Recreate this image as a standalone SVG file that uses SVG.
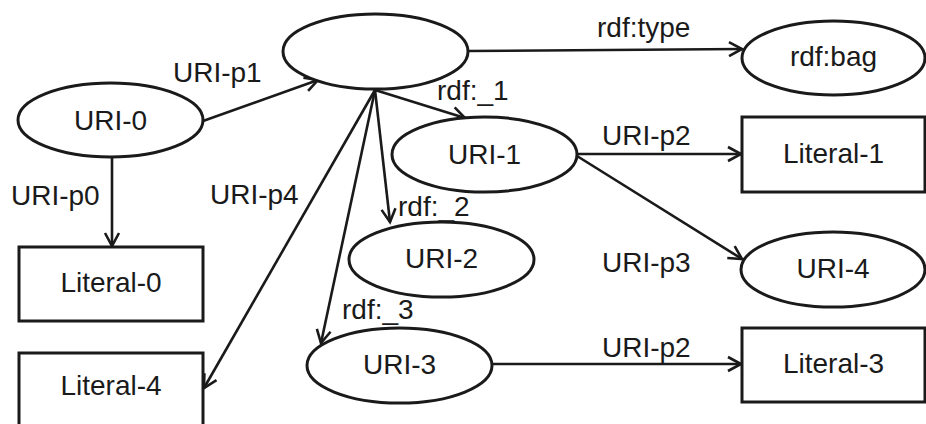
<svg xmlns="http://www.w3.org/2000/svg" width="926" height="424" viewBox="0 0 926 424">
<style>
.n{fill:#fff;stroke:#1a1a1a;stroke-width:3}
.t{font-family:"Liberation Sans",Arial,sans-serif;font-size:28px;fill:#1a1a1a}
.c{text-anchor:middle}
.e{stroke:#1a1a1a;stroke-width:2.6;fill:none;marker-end:url(#a)}
</style>
<defs>
<marker id="a" markerUnits="userSpaceOnUse" viewBox="-16 -10 19 20" refX="0" refY="0" markerWidth="19" markerHeight="20" orient="auto">
<path d="M-13,-7 L0,0 L-13,7" fill="none" stroke="#1a1a1a" stroke-width="2.6"/>
</marker>
</defs>
<rect width="926" height="424" fill="#fff"/>
<g id="edges">
<path class="e" d="M203,121 L318,80"/>
<path class="e" d="M112,157 L112,246"/>
<path class="e" d="M375,90 L204,388"/>
<path class="e" d="M375,90 L321,343"/>
<path class="e" d="M375,90 L390,222"/>
<path class="e" d="M375,90 L465,118"/>
<path class="e" d="M468,51 L742,49"/>
<path class="e" d="M577,154 L741,154"/>
<path class="e" d="M577,156 L742,259"/>
<path class="e" d="M492,364 L741,364"/>
<text class="t" x="173" y="82">URI-p1</text>
<text class="t" x="11" y="205">URI-p0</text>
<text class="t" x="210" y="204">URI-p4</text>
<text class="t" x="597" y="37">rdf:type</text>
<text class="t" x="437" y="100">rdf:_1</text>
<text class="t" x="398" y="216">rdf:_2</text>
<text class="t" x="342" y="319">rdf:_3</text>
<text class="t" x="602" y="145">URI-p2</text>
<text class="t" x="602" y="272">URI-p3</text>
<text class="t" x="602" y="357">URI-p2</text>
</g>
<g id="blank"><ellipse class="n" cx="375.5" cy="51.5" rx="92.5" ry="37.5"/></g>
<g id="uri0"><ellipse class="n" cx="110.5" cy="120" rx="92.5" ry="37"/><text class="t c" x="110.5" y="130">URI-0</text></g>
<g id="lit0"><rect class="n" x="19" y="247" width="184" height="74"/><text class="t c" x="111" y="292">Literal-0</text></g>
<g id="lit4"><rect class="n" x="19" y="353" width="184" height="74"/><text class="t c" x="111" y="395">Literal-4</text></g>
<g id="uri1"><ellipse class="n" cx="484.5" cy="154.5" rx="92.5" ry="37.5"/><text class="t c" x="484.5" y="164">URI-1</text></g>
<g id="uri2"><ellipse class="n" cx="441.5" cy="259.5" rx="92.5" ry="37.5"/><text class="t c" x="441.5" y="268">URI-2</text></g>
<g id="uri3"><ellipse class="n" cx="399.5" cy="365.5" rx="92.5" ry="37.5"/><text class="t c" x="399.5" y="374">URI-3</text></g>
<g id="bag"><ellipse class="n" cx="833.5" cy="58" rx="91.5" ry="37"/><text class="t c" x="833.5" y="66">rdf:bag</text></g>
<g id="lit1"><rect class="n" x="742" y="117" width="183" height="75"/><text class="t c" x="833.5" y="163">Literal-1</text></g>
<g id="uri4"><ellipse class="n" cx="833" cy="269.5" rx="92" ry="37.5"/><text class="t c" x="833" y="278">URI-4</text></g>
<g id="lit3"><rect class="n" x="742" y="328" width="183" height="74"/><text class="t c" x="833.5" y="373">Literal-3</text></g>
</svg>
